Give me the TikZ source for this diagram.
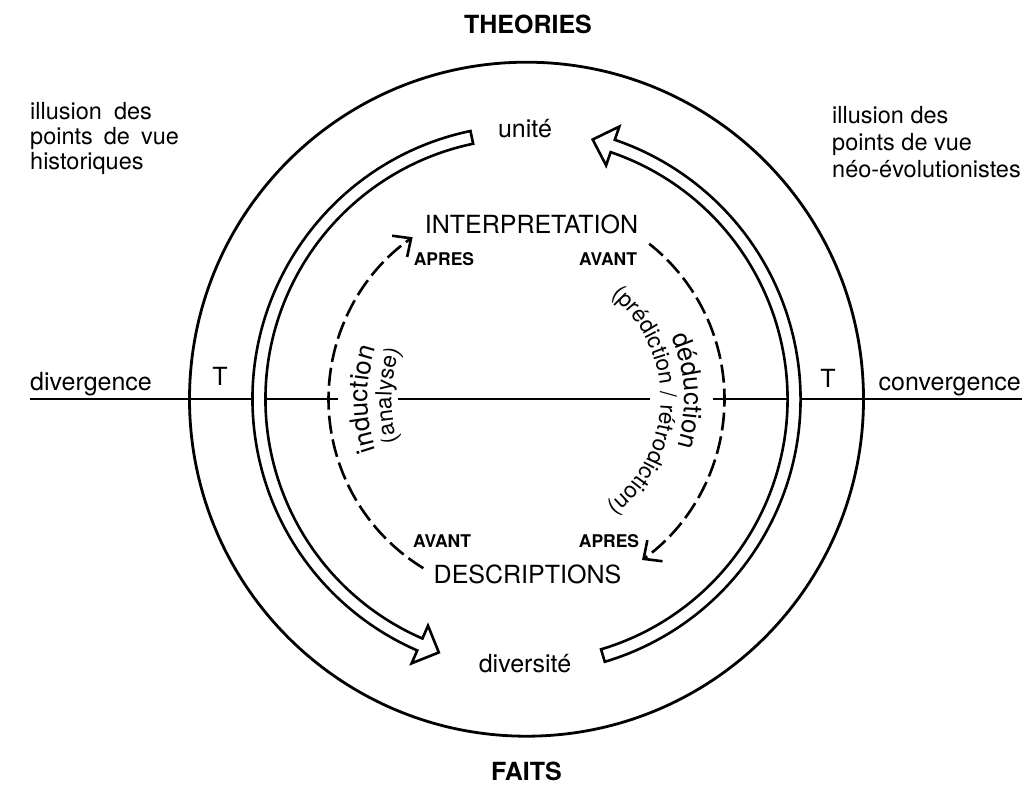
\documentclass[tikz,border=0pt]{standalone}
\usepackage{fontspec}
\setmainfont{TeX Gyre Heros}
\usetikzlibrary{arrows.meta,decorations.text}

% fonts for the curved labels
\newcommand\curvedbig{\fontsize{26}{26}\selectfont}
\newcommand\curvedsmall{\fontsize{22.5}{23}\selectfont}

% hollow arrow along the ring: #1 tail angle, #2 angle of the head base, #3 tip angle
\newcommand\ringarrow[3]{%
  \draw[band] ([shift={(O)}]#1:274) arc[start angle=#1, end angle=#2, radius=274]
    -- ([shift={(O)}]#2:288) -- ([shift={(O)}]#3:268) -- ([shift={(O)}]#2:247)
    -- ([shift={(O)}]#2:261) arc[start angle=#2, end angle=#1, radius=261] -- cycle;}

\begin{document}
\begin{tikzpicture}[x=1pt,y=1pt,
  txt/.style={font=\fontsize{25}{30}\selectfont, inner sep=0pt},
  note/.style={font=\fontsize{23.5}{26}\selectfont, inner sep=0pt, anchor=base west},
  tag/.style={font=\bfseries\fontsize{17.5}{20}\selectfont, inner sep=0pt},
  head/.style={font=\bfseries\fontsize{25}{30}\selectfont, inner sep=0pt},
  band/.style={draw, line width=2.6pt, fill=white, line join=miter},
  flow/.style={line width=2.6pt, dash pattern=on 18pt off 6pt,
    -{Straight Barb[length=14pt,width=26pt,line width=2.6pt]}},
  axis/.style={line width=2.3pt}]
\useasboundingbox (0,0) rectangle (1024,785);
\coordinate (O) at (526.5,385.8);

% outer circle
\draw[line width=2.8pt] (O) circle[radius=337];

% horizontal axis, interrupted by the curved labels
\coordinate (a1) at (30,385.8);
\coordinate (a2) at (338,385.8);
\coordinate (a3) at (398,385.8);
\coordinate (a4) at (650,385.8);
\coordinate (a5) at (713,385.8);
\coordinate (a6) at (1022,385.8);
\draw[axis] (a1) -- (a2);
\draw[axis] (a3) -- (a4);
\draw[axis] (a5) -- (a6);

% the two hollow arrows of the ring
\ringarrow{101.8}{246.5}{250.9}
\ringarrow{-73.4}{71.2}{75.7}

% dashed inner arcs
\draw[flow] ([shift={(O)}]238.6:198) arc[start angle=238.6, end angle=125.1, radius=198];
\draw[flow] ([shift={(O)}]51.7:198) arc[start angle=51.7, end angle=-54.3, radius=198];

% curved labels
\path[decorate, decoration={text along path, text align=center, text={|\curvedbig|induction}}]
  ([shift={(O)}]215:159) arc[start angle=215, end angle=145, radius=159];
\path[decorate, decoration={text along path, text align=center, text={|\curvedsmall|(analyse)}}]
  ([shift={(O)}]212:135) arc[start angle=212, end angle=145, radius=135];
\path[decorate, decoration={text along path, text align=center, text={|\curvedbig|déduction}}]
  ([shift={(O)}]42:158) arc[start angle=42, end angle=-36, radius=158];
\path[decorate, decoration={text along path, text align=center, text={|\curvedsmall|(prédiction / rétrodiction)}}]
  ([shift={(O)}]70:134) arc[start angle=70, end angle=-72, radius=134];

% labels
\node[head] (theo) at (528,761) {THEORIES};
\node[head] (faits) at (526.5,13.5) {FAITS};
\node[txt, anchor=base] (unite) at (525,647) {unité};
\node[txt, anchor=base] (divers) at (525,113) {diversité};
\node[txt] (interp) at (531.5,561) {INTERPRETATION};
\node[txt] (descr) at (527.5,211) {DESCRIPTIONS};
\node[tag] (apres1) at (444,526) {APRES};
\node[tag] (avant1) at (608,526) {AVANT};
\node[tag] (avant2) at (442,244) {AVANT};
\node[tag] (apres2) at (609,244) {APRES};
\node[txt] (tl) at (220,409) {T};
\node[txt] (tr) at (828,407) {T};
\node[txt, anchor=base west] (div) at (30,394) {divergence};
\node[txt, anchor=base east] (conv) at (1021,394) {convergence};

\node[note] (l1) at (30,665) {illusion\hspace{12pt}des};
\node[note] (l2) at (30,640) {points\hspace{11pt}de\hspace{11pt}vue};
\node[note] (l3) at (30,615) {historiques};
\node[note] (r1) at (832,661) {illusion des};
\node[note] (r2) at (832,634) {points de vue};
\node[note] (r3) at (832,607) {néo-évolutionistes};
\end{tikzpicture}
\end{document}
